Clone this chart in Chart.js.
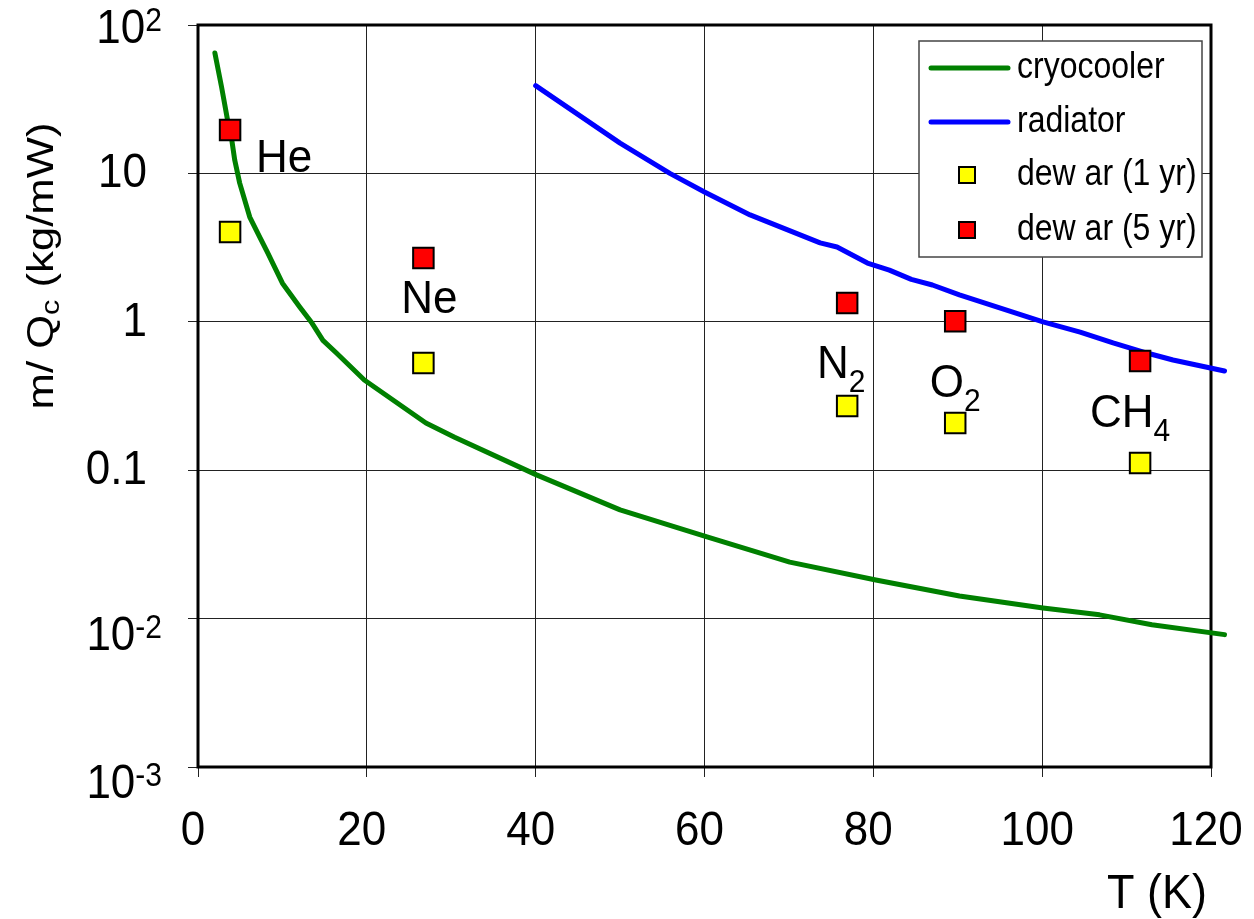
<!DOCTYPE html>
<html>
<head>
<meta charset="utf-8">
<title>Cooling mass per watt</title>
<script src="https://cdn.jsdelivr.net/npm/chart.js@4.4.1/dist/chart.umd.min.js"></script>
<style>
  html, body { margin: 0; padding: 0; background: #fff; }
  #wrap { width: 1254px; height: 919px; }
</style>
</head>
<body>
<div id="wrap"><canvas id="chart" width="1254" height="919"></canvas></div>
<script>
// values
const cryoT = [2.0, 2.8, 3.5, 4.0, 4.35, 4.94, 6.13, 7.3, 8.26, 10.0, 12.05, 13.5, 14.8, 16.4, 19.7, 27.0, 30.4, 40.1, 50.0, 60.3, 70.1, 80.3, 90.2, 100.1, 106.8, 113.0, 121.6];
const cryoMass = [64.7, 38, 22.9, 16.8, 12.3, 8.6, 5.08, 3.73, 2.91, 1.82, 1.26, 0.98, 0.75, 0.616, 0.405, 0.208, 0.167, 0.093, 0.054, 0.0355, 0.024, 0.0182, 0.0142, 0.0118, 0.0106, 0.0091, 0.0078];

const radT = [40, 50, 55.9, 60, 65.4, 73.7, 75.7, 79.3, 81.9, 84.5, 87.0, 90.2, 100.1, 104.5, 108.4, 112.4, 115.5, 121.6];
const radMass = [39, 16, 10, 7.5, 5.25, 3.4, 3.19, 2.49, 2.23, 1.93, 1.77, 1.52, 1.0, 0.853, 0.72, 0.616, 0.553, 0.466];

const gasNames = [['He', ''], ['Ne', ''], ['N', '2'], ['O', '2'], ['CH', '4']];
const dewarT = [3.8, 26.7, 76.9, 89.7, 111.6];
const dewar1yr = [4.03, 0.527, 0.271, 0.208, 0.112];
const dewar5yr = [19.6, 2.69, 1.34, 1.01, 0.544];

const seriesNames = ['cryocooler', 'radiator', 'dew ar (1 yr)', 'dew ar (5 yr)'];
const xTicks = [0, 20, 40, 60, 80, 100, 120];
const yTicks = [0.001, 0.01, 0.1, 1, 10, 100];
const yTickLabels = [['10', '-3'], ['10', '-2'], ['0.1', ''], ['1', ''], ['10', ''], ['10', '2']];

const FONT = '"Liberation Sans", Arial, sans-serif';

function pts(xs, ys) {
  return xs.map((x, i) => ({ x: x, y: ys[i] }));
}

// one string, vertically stretched like the original picture
function stretchText(ctx, str, x, y, size, sy) {
  ctx.save();
  ctx.font = size + 'px ' + FONT;
  ctx.translate(x, y);
  ctx.scale(1, sy);
  ctx.fillText(str, 0, 0);
  ctx.restore();
}

// text with an optional sub/superscript part, left edge at x
function drawParts(ctx, x, y, base, extra, size, extraSize, extraDy, sy) {
  stretchText(ctx, base, x, y, size, sy);
  ctx.font = size + 'px ' + FONT;
  const w = ctx.measureText(base).width;
  if (extra) {
    stretchText(ctx, extra, x + w, y + extraDy, extraSize, sy);
    ctx.font = extraSize + 'px ' + FONT;
    return w + ctx.measureText(extra).width;
  }
  return w;
}

function partsWidth(ctx, base, extra, size, extraSize) {
  ctx.font = size + 'px ' + FONT;
  let w = ctx.measureText(base).width;
  if (extra) {
    ctx.font = extraSize + 'px ' + FONT;
    w += ctx.measureText(extra).width;
  }
  return w;
}

const decorations = {
  id: 'decorations',
  beforeDatasetsDraw(chart) {
    const { ctx, chartArea: a } = chart;
    ctx.save();
    ctx.strokeStyle = '#000';
    ctx.lineWidth = 3;
    ctx.strokeRect(a.left, a.top, a.right - a.left, a.bottom - a.top);
    ctx.restore();
  },
  afterDatasetsDraw(chart) {
    const { ctx } = chart;
    const xs = chart.scales.x;
    const ys = chart.scales.y;
    ctx.save();
    ctx.fillStyle = '#000';
    ctx.textBaseline = 'alphabetic';
    ctx.textAlign = 'left';

    // gas names next to the 5-year dewar points
    const nameOffsets = [[26, 42, 'left'], [6, 55, 'center'], [-6, 75, 'center'], [0, 76, 'center'], [-10, 66, 'center']];
    gasNames.forEach((g, i) => {
      const px = xs.getPixelForValue(dewarT[i]);
      const py = ys.getPixelForValue(dewar5yr[i]);
      const off = nameOffsets[i];
      const w = partsWidth(ctx, g[0], g[1], 44, 30);
      const left = off[2] === 'left' ? px + off[0] : px + off[0] - w / 2;
      drawParts(ctx, left, py + off[1], g[0], g[1], 44, 30, 14, 1.05);
    });

    // legend box
    const lx = 919, ly = 41, lw = 283, lh = 216;
    ctx.fillStyle = '#fff';
    ctx.fillRect(lx, ly, lw, lh);
    ctx.strokeStyle = '#444';
    ctx.lineWidth = 1.5;
    ctx.strokeRect(lx, ly, lw, lh);
    const rows = [68, 122, 175, 230];
    chart.data.datasets.forEach((ds, i) => {
      const ry = rows[i];
      if (ds.showLine) {
        ctx.strokeStyle = ds.borderColor;
        ctx.lineWidth = 5;
        ctx.lineCap = 'round';
        ctx.beginPath();
        ctx.moveTo(931, ry);
        ctx.lineTo(1008, ry);
        ctx.stroke();
      } else {
        ctx.fillStyle = ds.backgroundColor;
        ctx.fillRect(959, ry - 8, 16, 16);
        ctx.strokeStyle = '#000';
        ctx.lineWidth = 2;
        ctx.strokeRect(959, ry - 8, 16, 16);
      }
      ctx.fillStyle = '#000';
      stretchText(ctx, ds.label, 1017, ry + 10, 32, 1.17);
    });
    ctx.restore();
  },
  afterDraw(chart) {
    const { ctx } = chart;
    const xs = chart.scales.x;
    const ys = chart.scales.y;
    ctx.save();
    ctx.fillStyle = '#000';
    ctx.textBaseline = 'alphabetic';

    // x tick labels
    ctx.textAlign = 'left';
    xTicks.forEach(v => {
      const w = partsWidth(ctx, String(v), '', 44, 30);
      stretchText(ctx, String(v), xs.getPixelForValue(v) - 5 - w / 2, 845, 44, 1.1);
    });

    // y tick labels, powers of ten with superscripts
    yTicks.forEach((v, i) => {
      const py = ys.getPixelForValue(v);
      const lab = yTickLabels[i];
      if (lab[1]) {
        const w = partsWidth(ctx, lab[0], lab[1], 44, 30);
        const dy = lab[1].startsWith('-') ? 31 : 18;
        drawParts(ctx, 162 - w, py + dy, lab[0], lab[1], 44, 30, -12, 1.1);
      } else {
        const w = partsWidth(ctx, lab[0], '', 44, 30);
        drawParts(ctx, 147 - w, py + 14, lab[0], '', 44, 30, 0, 1.1);
      }
    });

    // axis titles
    const tw = partsWidth(ctx, 'T (K)', '', 45, 30);
    stretchText(ctx, 'T (K)', 1207 - tw, 908, 45, 1.08);

    // y title: rotated, stretched along its length
    ctx.translate(53, 266);
    ctx.rotate(-Math.PI / 2);
    const sx = 1.18;
    ctx.scale(sx, 1);
    const w1 = partsWidth(ctx, 'm/ Q', 'c', 37, 26);
    ctx.font = '37px ' + FONT;
    const w2 = ctx.measureText(' (kg/mW)').width;
    const start = -(w1 + w2) / 2;
    const used = drawParts(ctx, start, 0, 'm/ Q', 'c', 37, 26, 6, 1);
    ctx.font = '37px ' + FONT;
    ctx.fillText(' (kg/mW)', start + used, 0);
    ctx.restore();
  }
};

const gridOpts = { color: '#222', lineWidth: 1, tickLength: 10, drawTicks: true };

new Chart(document.getElementById('chart'), {
  type: 'scatter',
  data: {
    datasets: [
      {
        label: seriesNames[0],
        data: pts(cryoT, cryoMass),
        showLine: true,
        borderColor: '#008000',
        backgroundColor: '#008000',
        borderWidth: 5,
        borderCapStyle: 'round',
        borderJoinStyle: 'round',
        pointRadius: 0,
        clip: false,
        order: 3
      },
      {
        label: seriesNames[1],
        data: pts(radT, radMass),
        showLine: true,
        borderColor: '#0000ff',
        backgroundColor: '#0000ff',
        borderWidth: 5,
        borderCapStyle: 'round',
        borderJoinStyle: 'round',
        pointRadius: 0,
        clip: false,
        order: 3
      },
      {
        label: seriesNames[2],
        data: pts(dewarT, dewar1yr),
        showLine: false,
        pointStyle: 'rect',
        pointRadius: 14.5,
        borderWidth: 2,
        borderColor: '#000',
        backgroundColor: '#ffff00',
        clip: false,
        order: 1
      },
      {
        label: seriesNames[3],
        data: pts(dewarT, dewar5yr),
        showLine: false,
        pointStyle: 'rect',
        pointRadius: 14.5,
        borderWidth: 2,
        borderColor: '#000',
        backgroundColor: '#ff0000',
        clip: false,
        order: 1
      }
    ]
  },
  options: {
    responsive: false,
    animation: false,
    layout: { padding: { left: 188, top: 25, right: 43, bottom: 142 } },
    plugins: {
      legend: { display: false },
      tooltip: { enabled: false }
    },
    scales: {
      x: {
        type: 'linear',
        min: 0,
        max: 120,
        ticks: { display: false },
        afterBuildTicks: s => { s.ticks = xTicks.map(v => ({ value: v })); },
        grid: gridOpts,
        border: { display: false }
      },
      y: {
        type: 'logarithmic',
        min: 0.001,
        max: 100,
        ticks: { display: false },
        afterBuildTicks: s => { s.ticks = yTicks.map(v => ({ value: v })); },
        grid: gridOpts,
        border: { display: false }
      }
    }
  },
  plugins: [decorations]
});
</script>
</body>
</html>
